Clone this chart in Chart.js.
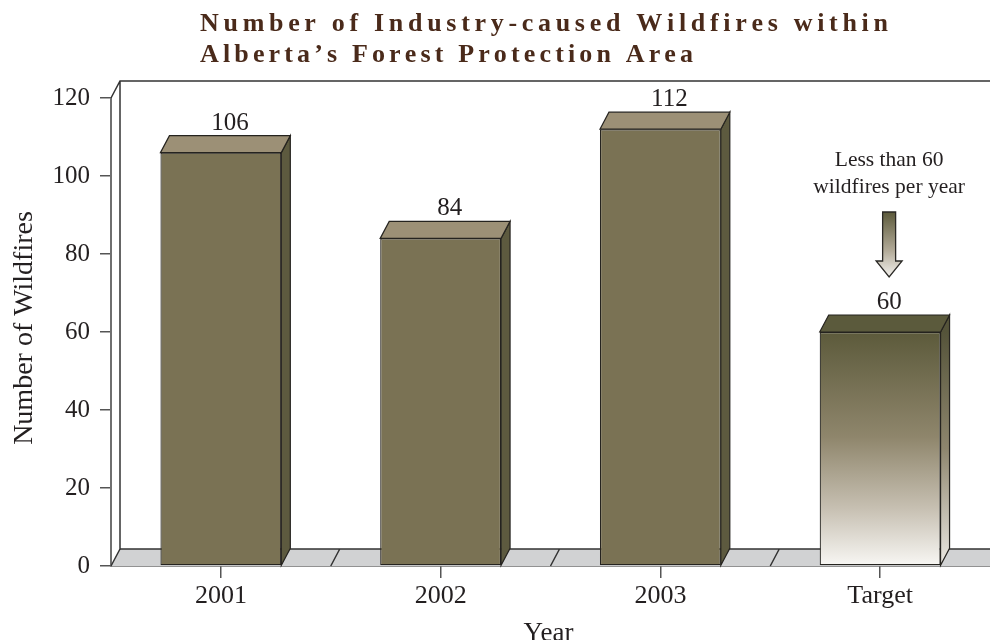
<!DOCTYPE html>
<html>
<head>
<meta charset="utf-8">
<script src="https://cdn.jsdelivr.net/npm/chart.js@4.4.0/dist/chart.umd.min.js"></script>
<style>
  html, body { margin: 0; padding: 0; background: #ffffff; }
  #wrap { width: 990px; height: 640px; }
</style>
</head>
<body>
<div id="wrap"><canvas id="c" width="990" height="640"></canvas></div>
<script>
// ---- data ----
const categories = ['2001', '2002', '2003', 'Target'];
const wildfires = [106, 84, 112, 60];
const yTicks = [0, 20, 40, 60, 80, 100, 120];
const titleLines = ['Number of Industry-caused Wildfires within', 'Alberta\u2019s Forest Protection Area'];
const yTitle = 'Number of Wildfires';
const xTitle = 'Year';
const targetNote = ['Less than 60', 'wildfires per year'];

// ---- style ----
const SERIF = '"Liberation Serif", "DejaVu Serif", serif';
const DX = 9, DY = 17;               // depth offset of the 3-D boxes
const FRONT = '#7a7254', TOP = '#9c9076', SIDE = '#5d5a3f';
const OUTLINE = '#25231f';
const FLOOR = '#d1d2d3';
const TEXT = '#231f20';
const TITLE_COLOR = '#4a2a1a';
const TITLE_WIDTHS = [688, 493];     // set width of each title line

const isTarget = i => categories[i] === 'Target';

function verticalGradient(ctx, y0, y1, stops) {
  const g = ctx.createLinearGradient(0, y0, 0, y1);
  stops.forEach(([p, c]) => g.addColorStop(p, c));
  return g;
}
const TARGET_FRONT = [[0, '#5c5a3b'], [0.45, '#8f866c'], [0.75, '#c6bfb1'], [1, '#f8f7f4']];
const TARGET_SIDE = [[0, '#55543a'], [0.5, '#8e866e'], [1, '#ebe8e2']];

function barFront(context) {
  const i = context.dataIndex;
  const chart = context.chart;
  if (!isTarget(i) || !chart.chartArea) return FRONT;
  const y = chart.scales.y;
  return verticalGradient(chart.ctx, y.getPixelForValue(wildfires[i]), y.getPixelForValue(0), TARGET_FRONT);
}

// draws a line of text stretched to a given width by spacing its letters
function spacedText(ctx, text, x, y, width) {
  let natural = 0;
  for (const ch of text) natural += ctx.measureText(ch).width;
  const spacing = (width - natural) / (text.length - 1);
  let cx = x;
  for (const ch of text) {
    ctx.fillText(ch, cx, y);
    cx += ctx.measureText(ch).width + spacing;
  }
}

const depthPlugin = {
  id: 'depth3d',
  beforeDatasetsDraw(chart) {
    const { ctx, chartArea: a, scales: { x, y } } = chart;
    const y0 = y.getPixelForValue(0);
    ctx.save();
    // floor
    ctx.fillStyle = FLOOR;
    ctx.beginPath();
    ctx.moveTo(a.left, y0);
    ctx.lineTo(a.left + DX, y0 - DY);
    ctx.lineTo(a.right, y0 - DY);
    ctx.lineTo(a.right, y0);
    ctx.closePath();
    ctx.fill();

    ctx.strokeStyle = '#333333';
    ctx.lineWidth = 1.5;
    ctx.beginPath();
    // back wall: left edge and top edge
    ctx.moveTo(a.left, a.top);
    ctx.lineTo(a.left + DX, a.top - DY);
    ctx.lineTo(a.right, a.top - DY);
    ctx.moveTo(a.left + DX, a.top - DY);
    ctx.lineTo(a.left + DX, y0 - DY);
    // floor back edge
    ctx.moveTo(a.left + DX, y0 - DY);
    ctx.lineTo(a.right, y0 - DY);
    // floor left edge
    ctx.moveTo(a.left, y0);
    ctx.lineTo(a.left + DX, y0 - DY);
    // floor dividers between categories
    for (let i = 1; i < categories.length; i++) {
      const bx = (x.getPixelForValue(i - 1) + x.getPixelForValue(i)) / 2;
      ctx.moveTo(bx, y0);
      ctx.lineTo(bx + DX, y0 - DY);
    }
    ctx.stroke();
    ctx.restore();
  },
  afterDatasetsDraw(chart) {
    const { ctx } = chart;
    const meta = chart.getDatasetMeta(0);
    ctx.save();
    ctx.lineWidth = 1.2;
    ctx.strokeStyle = OUTLINE;
    ctx.lineJoin = 'miter';
    meta.data.forEach((bar, i) => {
      const { x, y: top, base, width } = bar.getProps(['x', 'y', 'base', 'width'], true);
      const l = x - width / 2, r = x + width / 2;
      // side face
      ctx.beginPath();
      ctx.moveTo(r, top);
      ctx.lineTo(r + DX, top - DY);
      ctx.lineTo(r + DX, base - DY);
      ctx.lineTo(r, base);
      ctx.closePath();
      ctx.fillStyle = isTarget(i) ? verticalGradient(ctx, top, base, TARGET_SIDE) : SIDE;
      ctx.fill();
      ctx.stroke();
      // top face
      ctx.beginPath();
      ctx.moveTo(l, top);
      ctx.lineTo(l + DX, top - DY);
      ctx.lineTo(r + DX, top - DY);
      ctx.lineTo(r, top);
      ctx.closePath();
      ctx.fillStyle = isTarget(i) ? '#5b5a3c' : TOP;
      ctx.fill();
      ctx.stroke();
      // value label
      ctx.fillStyle = TEXT;
      ctx.font = '25px ' + SERIF;
      ctx.textAlign = 'center';
      ctx.textBaseline = 'alphabetic';
      ctx.fillText(String(wildfires[i]), x + DX, top - DY - 6);

      if (isTarget(i)) {
        const cx = x + DX, ref = top - DY;
        ctx.font = '21.5px ' + SERIF;
        ctx.fillText(targetNote[0], cx, ref - 149);
        ctx.fillText(targetNote[1], cx, ref - 122);
        // downward arrow
        const sTop = ref - 103, sBot = ref - 54, tip = ref - 38, sw = 6.5, hw = 13;
        ctx.beginPath();
        ctx.moveTo(cx - sw, sTop);
        ctx.lineTo(cx + sw, sTop);
        ctx.lineTo(cx + sw, sBot);
        ctx.lineTo(cx + hw, sBot);
        ctx.lineTo(cx, tip);
        ctx.lineTo(cx - hw, sBot);
        ctx.lineTo(cx - sw, sBot);
        ctx.closePath();
        ctx.fillStyle = verticalGradient(ctx, sTop, tip, [[0, '#5c5a3b'], [0.6, '#b3ab99'], [1, '#f4f2ee']]);
        ctx.fill();
        ctx.strokeStyle = '#2a2825';
        ctx.lineWidth = 1.3;
        ctx.stroke();
        ctx.lineWidth = 1.2;
        ctx.strokeStyle = OUTLINE;
      }
    });
    ctx.restore();
  },
  afterDraw(chart) {
    const { ctx, chartArea: a } = chart;
    ctx.save();
    // chart title, letter-spaced
    ctx.fillStyle = TITLE_COLOR;
    ctx.font = 'bold 26px ' + SERIF;
    ctx.textAlign = 'left';
    ctx.textBaseline = 'alphabetic';
    spacedText(ctx, titleLines[0], 200, 31, TITLE_WIDTHS[0]);
    spacedText(ctx, titleLines[1], 200, 62, TITLE_WIDTHS[1]);

    // axis titles
    ctx.fillStyle = TEXT;
    ctx.font = '28px ' + SERIF;
    ctx.textAlign = 'center';
    ctx.textBaseline = 'middle';
    ctx.save();
    ctx.translate(25, (a.top + a.bottom) / 2 - 4);
    ctx.rotate(-Math.PI / 2);
    ctx.fillText(yTitle, 0, 0);
    ctx.restore();
    ctx.font = '27px ' + SERIF;
    ctx.textBaseline = 'alphabetic';
    ctx.fillText(xTitle, (a.left + a.right) / 2 - 2, 641);
    ctx.restore();
  }
};

new Chart(document.getElementById('c'), {
  type: 'bar',
  data: {
    labels: categories,
    datasets: [{
      data: wildfires,
      backgroundColor: barFront,
      borderColor: OUTLINE,
      borderWidth: 1.2,
      borderSkipped: false,
      barPercentage: 0.55,
      categoryPercentage: 1
    }]
  },
  options: {
    responsive: false,
    animation: false,
    devicePixelRatio: 1,
    layout: { padding: { top: 98, right: 0, left: 0, bottom: 0 } },
    plugins: {
      legend: { display: false },
      tooltip: { enabled: false },
      title: { display: false }
    },
    scales: {
      x: {
        offset: true,
        grid: { display: true, drawOnChartArea: false, offset: false, tickLength: 12, color: '#555555', lineWidth: 1.5 },
        border: { display: true, color: '#262626', width: 1.5 },
        ticks: { color: TEXT, font: { family: SERIF, size: 26 }, padding: 3, maxRotation: 0 },
        afterFit(scale) { scale.height = 74; }
      },
      y: {
        min: 0,
        max: 120,
        afterBuildTicks(scale) { scale.ticks = yTicks.map(v => ({ value: v })); },
        grid: { display: true, drawOnChartArea: false, tickLength: 11, color: '#555555', lineWidth: 1.5 },
        border: { display: true, color: '#707070', width: 2 },
        ticks: { color: TEXT, font: { family: SERIF, size: 25 }, padding: 10 },
        afterFit(scale) { scale.width = 111; }
      }
    }
  },
  plugins: [depthPlugin]
});
</script>
</body>
</html>
